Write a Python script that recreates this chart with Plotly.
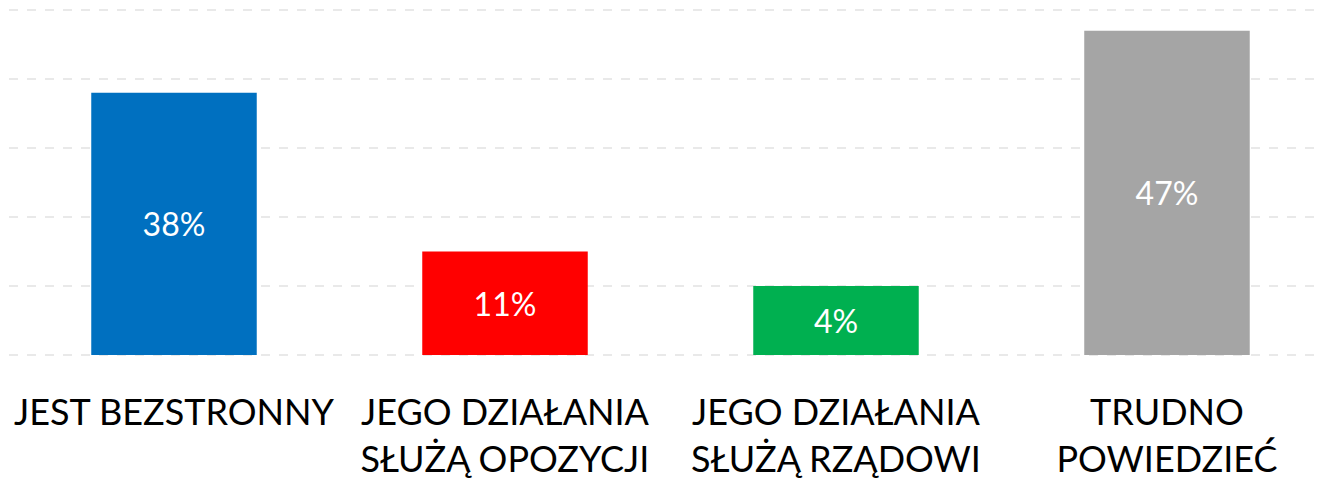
import plotly.graph_objects as go

categories = ["JEST BEZSTRONNY", "JEGO DZIAŁANIA<br>SŁUŻĄ OPOZYCJI", "JEGO DZIAŁANIA<br>SŁUŻĄ RZĄDOWI", "TRUDNO<br>POWIEDZIEĆ"]
# bar heights as drawn in the picture (small bars are drawn taller than their labels)
bar_heights = [38, 15, 10, 47]
labels = ["38%", "11%", "4%", "47%"]
colors = ["#0070C0", "#FF0000", "#00B050", "#A5A5A5"]

fig = go.Figure(go.Bar(
    x=list(range(len(categories))),
    y=bar_heights,
    text=labels,
    textposition="inside",
    insidetextanchor="middle",
    textfont=dict(color="white", size=32, family="Lato"),
    marker=dict(color=colors, line=dict(width=0)),
    width=0.5,
    hoverinfo="skip",
))

fig.update_layout(
    width=1323, height=483,
    margin=dict(l=1, r=0, t=1, b=135),
    paper_bgcolor="white", plot_bgcolor="white",
    showlegend=False,
    font=dict(family="Lato", color="black"),
    uniformtext=dict(minsize=32, mode="show"),
)
fig.update_xaxes(
    tickmode="array",
    tickvals=list(range(len(categories))),
    ticktext=categories,
    range=[-0.4985, 3.4955],
    showgrid=False, zeroline=False, showline=False,
    tickfont=dict(size=36, family="Lato", color="black"),
    ticks="",
    automargin=False,
    ticklabelstandoff=32,
)
fig.update_yaxes(
    range=[-0.15, 50.15],
    tickvals=[0, 10, 20, 30, 40, 50],
    showticklabels=False,
    showgrid=True,
    gridcolor="#e9e9e9",
    griddash="dash",
    gridwidth=2,
    zeroline=False, showline=False,
    automargin=False,
)

fig.write_html("out.html")
